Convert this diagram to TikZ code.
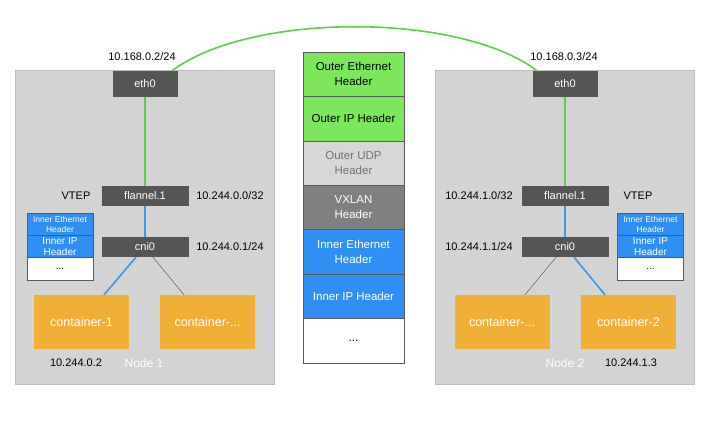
\documentclass[tikz,border=0pt]{standalone}
\usepackage{fontspec}
\setmainfont{Liberation Sans}
\definecolor{hostgray}{HTML}{D3D3D3}
\definecolor{devgray}{HTML}{555555}
\definecolor{ctorange}{HTML}{F0B035}
\definecolor{pktgreen}{HTML}{7DE75B}
\definecolor{pktblue}{HTML}{2F8FF4}
\definecolor{linkgreen}{HTML}{5ACF47}
\definecolor{linkblue}{HTML}{3A98EE}
\definecolor{udpgray}{HTML}{D7D7D7}
\definecolor{vxgray}{HTML}{808080}
\begin{document}
\begin{tikzpicture}[x=1pt, y=-1pt,
    host/.style={fill=hostgray, draw=hostgray!90!black, line width=0.3pt, minimum width=259, minimum height=314, inner sep=0pt},
    dev/.style={fill=devgray, text=white, minimum width=87, minimum height=20, inner sep=0pt, font=\fontsize{11}{13}\selectfont},
    ctr/.style={fill=ctorange, text=white, minimum width=95, minimum height=54, inner sep=0pt, font=\fontsize{12.5}{14}\selectfont},
    seg/.style={draw=black!65, line width=0.4pt, minimum width=101, minimum height=44.4, inner sep=0pt, align=center, font=\fontsize{11.5}{15}\selectfont},
    mini/.style={draw=black!65, line width=0.4pt, minimum width=66, minimum height=22.3, inner sep=0pt, align=center},
    lbl/.style={font=\fontsize{11}{13}\selectfont},
    link/.style={line width=1.6pt}
]
\useasboundingbox (0,0) rectangle (723,423);

% hosts
\node[host] (node1) at (144.5,227) {};
\node[host] (node2) at (565,227) {};

% node 1
\node[dev, minimum width=65, minimum height=26] (eth0a) at (145,84) {eth0};
\node[dev] (flannela) at (145,196) {flannel.1};
\node[dev] (cnia) at (145,247) {cni0};
\node[ctr] (ctra) at (81.5,322) {container-1};
\node[ctr] (ctrdotsa) at (207.5,322) {container-...};

\node[lbl] (ipa) at (142,57) {10.168.0.2/24};
\node[lbl] (vtepa) at (76,196) {VTEP};
\node[lbl] (vnia) at (230,196) {10.244.0.0/32};
\node[lbl] (cniipa) at (230,247) {10.244.0.1/24};
\node[lbl] (podipa) at (76,363) {10.244.0.2};
\node[lbl, text=white, font=\fontsize{12}{14}\selectfont] (namea) at (144,363) {Node 1};

\node[mini, fill=pktblue, text=white, font=\fontsize{8.5}{10}\selectfont] (ietha) at (60,224.2) {Inner Ethernet\\Header};
\node[mini, fill=pktblue, text=white, font=\fontsize{10}{11.5}\selectfont] (iipa) at (60,246.5) {Inner IP\\Header};
\node[mini, fill=white, font=\fontsize{10}{11.5}\selectfont] (resta) at (60,268.8) {...};

% node 2
\node[dev, minimum width=65, minimum height=26] (eth0b) at (565,84) {eth0};
\node[dev] (flannelb) at (565,196) {flannel.1};
\node[dev] (cnib) at (565,247) {cni0};
\node[ctr] (ctrdotsb) at (502,322) {container-...};
\node[ctr] (ctrb) at (628.5,322) {container-2};

\node[lbl] (ipb) at (564,57) {10.168.0.3/24};
\node[lbl] (vnib) at (479,196) {10.244.1.0/32};
\node[lbl] (vtepb) at (638,196) {VTEP};
\node[lbl] (cniipb) at (479,247) {10.244.1.1/24};
\node[lbl, text=white, font=\fontsize{12}{14}\selectfont] (nameb) at (565,363) {Node 2};
\node[lbl] (podipb) at (631,363) {10.244.1.3};

\node[mini, fill=pktblue, text=white, font=\fontsize{8.5}{10}\selectfont] (iethb) at (650.5,224.2) {Inner Ethernet\\Header};
\node[mini, fill=pktblue, text=white, font=\fontsize{10}{11.5}\selectfont] (iipb) at (650.5,246.5) {Inner IP\\Header};
\node[mini, fill=white, font=\fontsize{10}{11.5}\selectfont] (restb) at (650.5,268.8) {...};

% packet in the middle
\node[seg, fill=pktgreen] (oeth) at (353.5,74.2) {Outer Ethernet\\Header};
\node[seg, fill=pktgreen] (oip) at (353.5,118.6) {Outer IP Header};
\node[seg, fill=udpgray, text=black!55] (oudp) at (353.5,163) {Outer UDP\\Header};
\node[seg, fill=vxgray, text=white] (vxlan) at (353.5,207.4) {VXLAN\\Header};
\node[seg, fill=pktblue, text=white] (ieth) at (353.5,251.8) {Inner Ethernet\\Header};
\node[seg, fill=pktblue, text=white] (iip) at (353.5,296.2) {Inner IP Header};
\node[seg, fill=white] (rest) at (353.5,340.6) {...};

% links
\draw[link, linkgreen] ([xshift=27]eth0a.north) .. controls (250,12) and (460,12) .. ([xshift=-28]eth0b.north);
\draw[link, linkgreen] (eth0a) -- (flannela);
\draw[link, linkgreen] (eth0b) -- (flannelb);
\draw[link, linkblue] (flannela) -- (cnia);
\draw[link, linkblue] (flannelb) -- (cnib);
\draw[link, linkblue] ([xshift=-9]cnia.south) -- ([xshift=22.5]ctra.north);
\draw[black!70, line width=0.4pt] ([xshift=8]cnia.south) -- ([xshift=-23.5]ctrdotsa.north);
\draw[black!70, line width=0.4pt] ([xshift=-9]cnib.south) -- ([xshift=23]ctrdotsb.north);
\draw[link, linkblue] ([xshift=9]cnib.south) -- ([xshift=-23.5]ctrb.north);
\end{tikzpicture}
\end{document}
